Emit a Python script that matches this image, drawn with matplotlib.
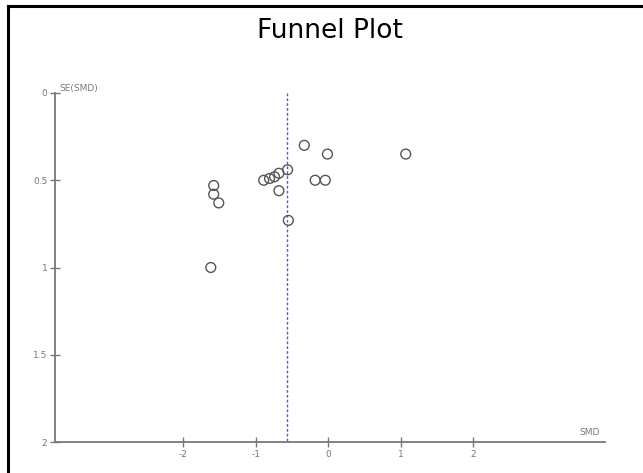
import numpy as np
import matplotlib.pyplot as plt
from matplotlib.lines import Line2D

# study effects (SMD) and their standard errors
smd = [-0.33, -0.01, 1.07, -0.56, -0.68, -0.74, -0.81, -0.89, -0.68,
       -0.18, -0.04, -1.58, -1.58, -1.51, -0.55, -1.62]
se = [0.30, 0.35, 0.35, 0.44, 0.46, 0.48, 0.49, 0.50, 0.56,
      0.50, 0.50, 0.53, 0.58, 0.63, 0.73, 1.00]
pooled = -0.565

x_ticks = [-2, -1, 0, 1, 2]
x_labels = ['-2', '-1', '0', '1', '2']
y_ticks = [0, 0.5, 1, 1.5, 2]
y_labels = ['0', '0.5', '1', '1.5', '2']

W, H = 643, 473
fig = plt.figure(figsize=(W / 100, H / 100), dpi=100)

# axes box in pixels: x 55..605, y 93..442
ax = fig.add_axes([55 / W, (H - 442) / H, (605 - 55) / W, (442 - 93) / H])

ax.scatter(smd, se, s=50, facecolors='none', edgecolors='#555555', linewidths=1.0, zorder=3)
ax.plot([pooled, pooled], [0, 2], color='#5a5ac0', linestyle=(0, (2, 1.5)), linewidth=1.0, zorder=2)

ax.set_xlim(-3.77, 3.82)
ax.set_ylim(2, 0)

for side in ['top', 'right']:
    ax.spines[side].set_visible(False)
for side in ['left', 'bottom']:
    ax.spines[side].set_color('#777777')
    ax.spines[side].set_linewidth(1.3)

ax.set_xticks(x_ticks)
ax.set_xticklabels(x_labels)
ax.set_yticks(y_ticks)
ax.set_yticklabels(y_labels)
ax.tick_params(direction='inout', length=7, width=1, colors='#777777', labelsize=6.5, labelcolor='#777777', pad=2)

ax.text(0.008, 1.0, 'SE(SMD)', transform=ax.transAxes, fontsize=6.5, color='#777777', ha='left', va='bottom')
ax.text(0.99, 0.015, 'SMD', transform=ax.transAxes, fontsize=6.5, color='#777777', ha='right', va='bottom')

fig.text(330 / W, 1 - 31 / H, 'Funnel Plot', fontsize=19, ha='center', va='center', color='black')

# black frame on left and top
fig.add_artist(Line2D([8 / W, 8 / W], [0, 1 - 6 / H], color='black', linewidth=2.2, transform=fig.transFigure))
fig.add_artist(Line2D([8 / W, 1], [1 - 6 / H, 1 - 6 / H], color='black', linewidth=2.2, transform=fig.transFigure))

fig.savefig('out.png', dpi=100)
